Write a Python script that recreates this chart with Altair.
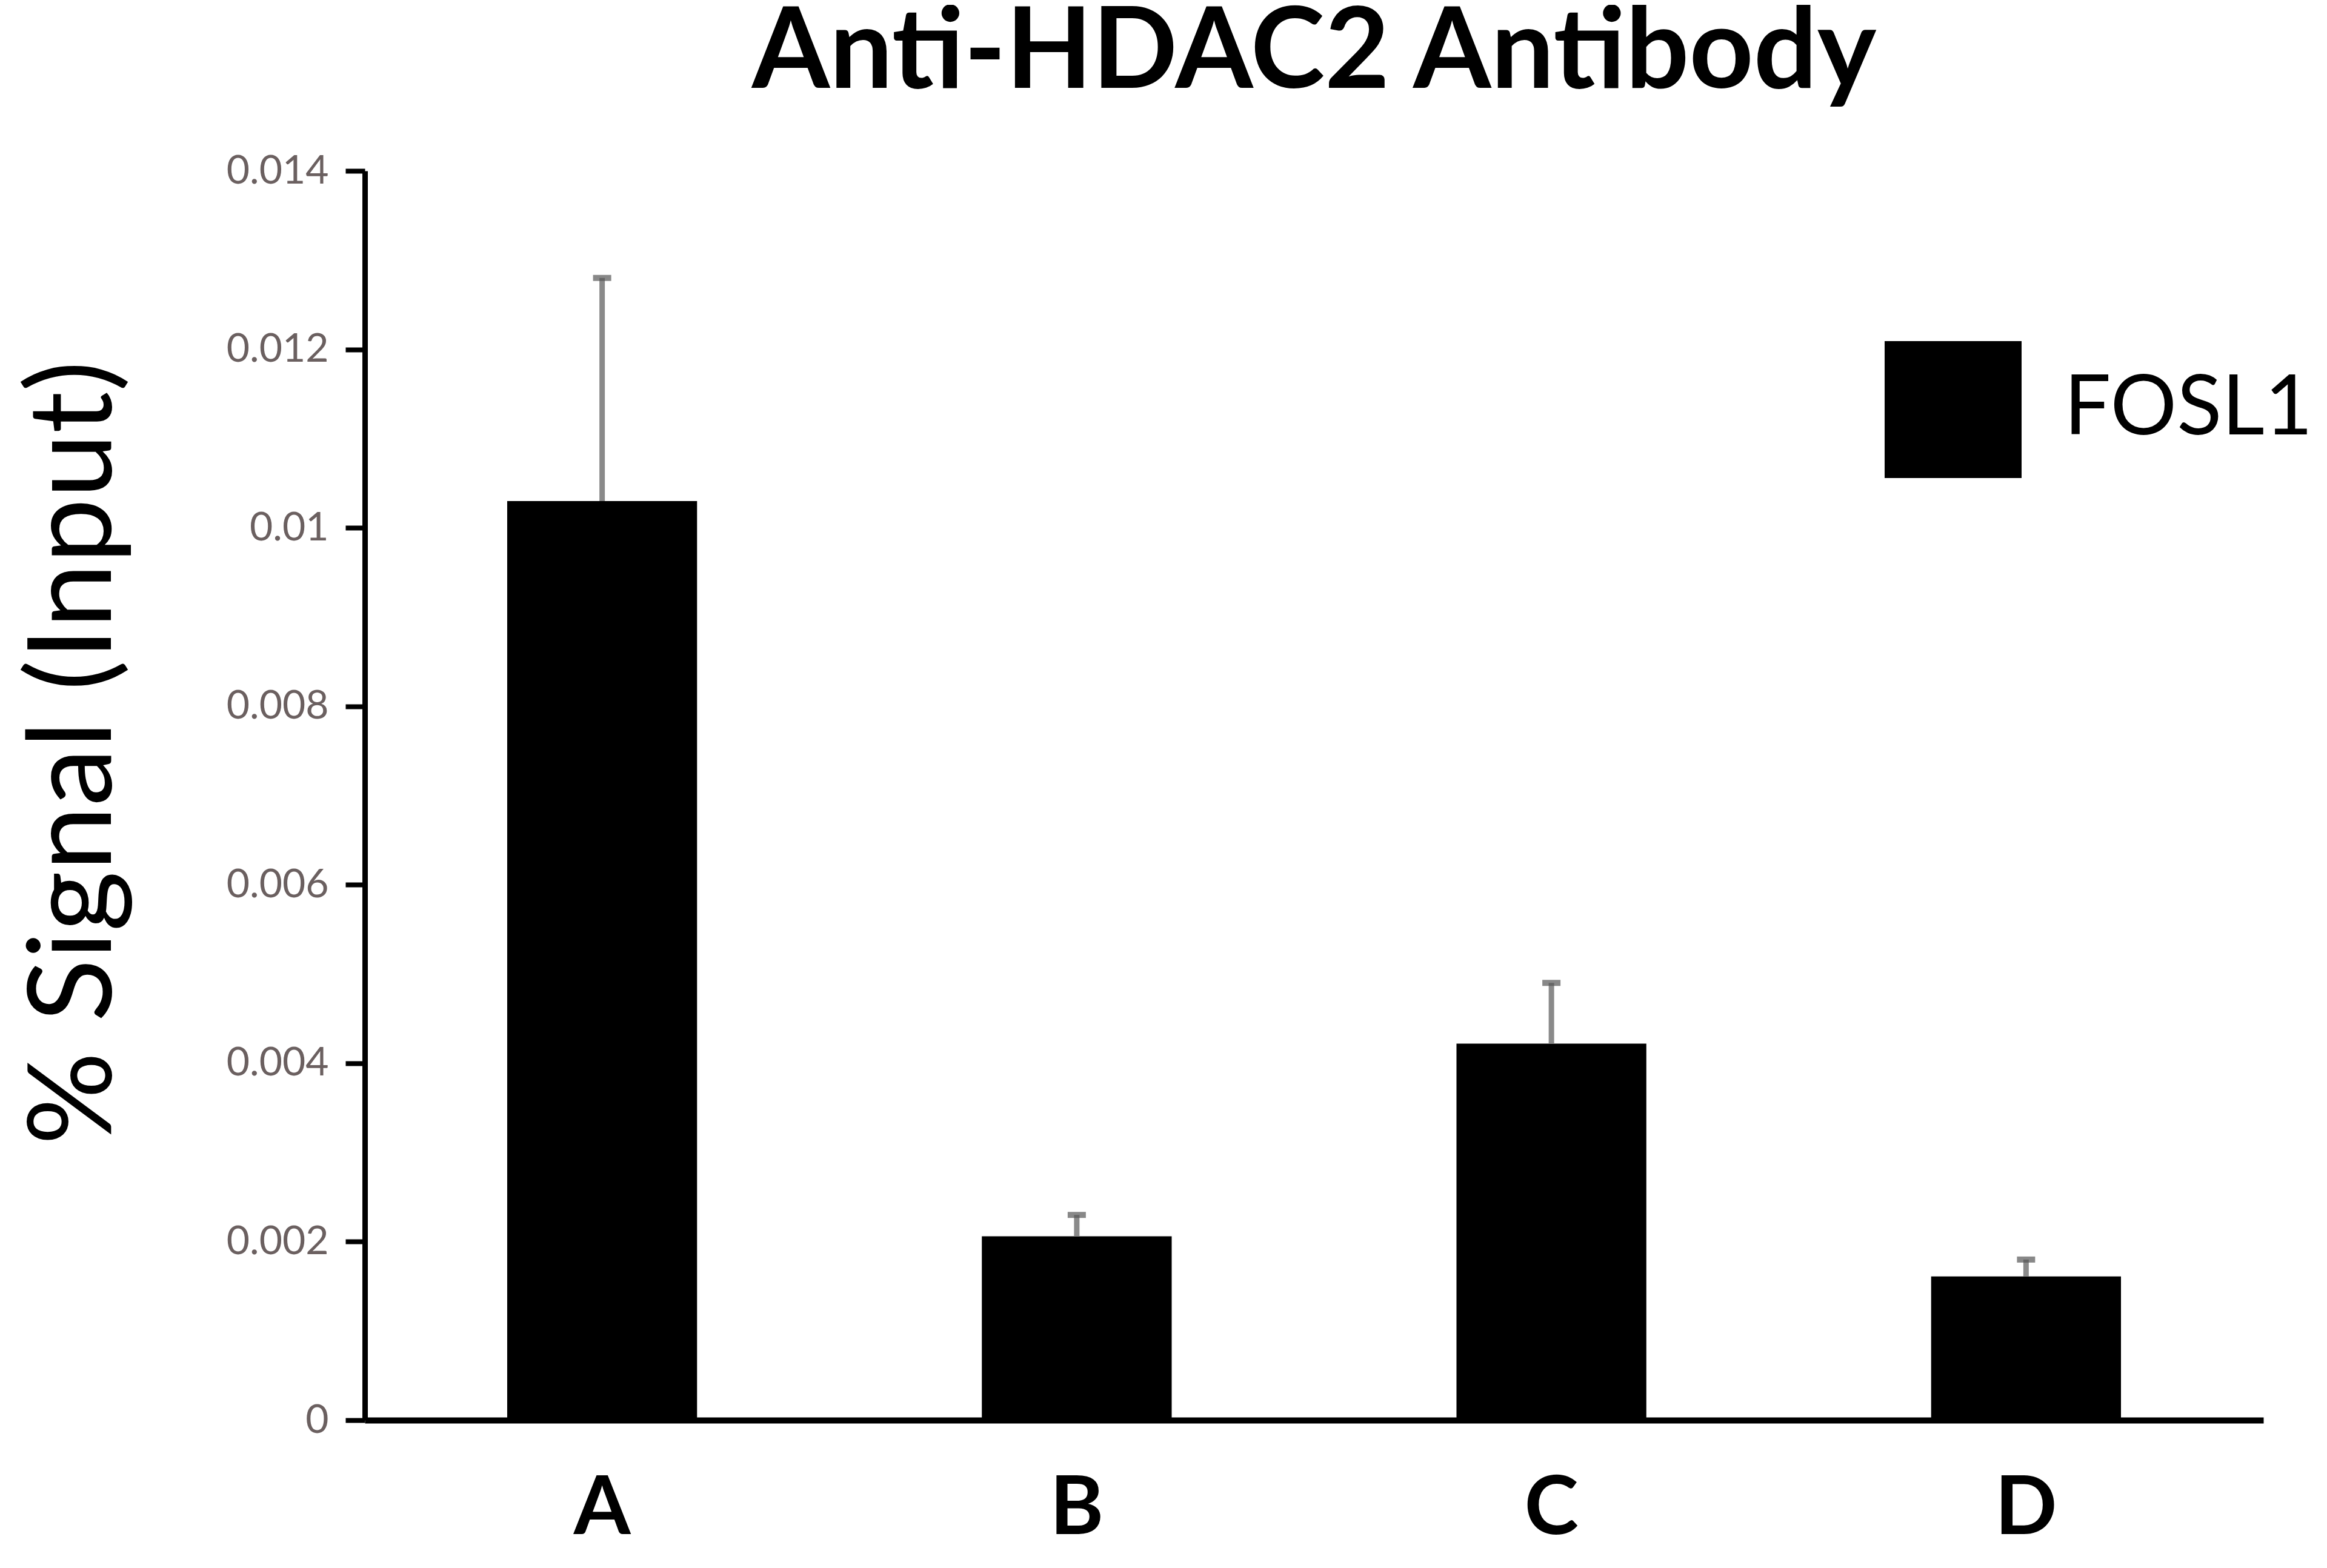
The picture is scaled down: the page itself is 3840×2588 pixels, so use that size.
import altair as alt
import pandas as pd

categories = ["A", "B", "C", "D"]
values = [0.0103, 0.00206, 0.00422, 0.00161]
upper = [0.0128, 0.0023, 0.0049, 0.0018]
series = ["FOSL1", "FOSL1", "FOSL1", "FOSL1"]
y_ticks = [0, 0.002, 0.004, 0.006, 0.008, 0.01, 0.012, 0.014]

df = pd.DataFrame({"cat": categories, "val": values, "up": upper, "series": series})

FONT = "Lato"

x_enc = alt.X("cat:N", sort=categories,
              scale=alt.Scale(paddingInner=0.6, paddingOuter=0.3),
              axis=alt.Axis(title=None, labelAngle=0, labelFont=FONT, labelFontWeight="bold",
                            labelFontSize=135, labelColor="black", labelPadding=80,
                            ticks=False, domainColor="black", domainWidth=10))
y_scale = alt.Scale(domain=[0, 0.014], nice=False)

bars = alt.Chart(df).mark_bar().encode(
    x=x_enc,
    y=alt.Y("val:Q", scale=y_scale,
            axis=alt.Axis(title="% Signal (Input)", values=y_ticks, format="~g",
                          titleFont=FONT, titleFontSize=192, titleFontWeight="normal",
                          titleColor="black", titleX=-478, titleY=960,
                          titleAlign="center", titleBaseline="middle", titleAngle=-90,
                          labelFont=FONT, labelFontSize=66, labelColor="#6b6060",
                          labelPadding=28, tickSize=32, tickWidth=8, tickColor="black",
                          domainColor="black", domainWidth=9, grid=False)),
    color=alt.Color("series:N", scale=alt.Scale(range=["black"]),
                    legend=alt.Legend(title=None, orient="none", legendX=2508, legendY=281,
                                      symbolType="M-1,-1H1V1H-1Z", symbolSize=51076,
                                      symbolStrokeWidth=0, symbolFillColor="black",
                                      labelFont=FONT, labelFontSize=137, labelColor="black",
                                      labelOffset=70, labelLimit=1000, padding=0)),
)

err = alt.Chart(df).mark_rule(color="#8a8a8a", strokeWidth=9).encode(
    x=alt.X("cat:N", sort=categories),
    y=alt.Y("val:Q", scale=y_scale),
    y2="up:Q",
)

caps = alt.Chart(df).mark_tick(color="#555555", thickness=10, size=30).encode(
    x=alt.X("cat:N", sort=categories),
    y=alt.Y("up:Q", scale=y_scale),
)

chart = alt.layer(bars, err, caps).properties(
    width=3133, height=2062,
    title=alt.Title("Anti-HDAC2 Antibody", font=FONT, fontSize=185, fontWeight="bold",
                    color="black", anchor="middle", offset=65),
    autosize=alt.AutoSizeParams(type="none"),
    padding={"left": 594, "top": 274, "right": 97, "bottom": 236},
).configure_view(stroke=None)

chart.save("out.html", embed_options={"renderer": "svg", "actions": False})
